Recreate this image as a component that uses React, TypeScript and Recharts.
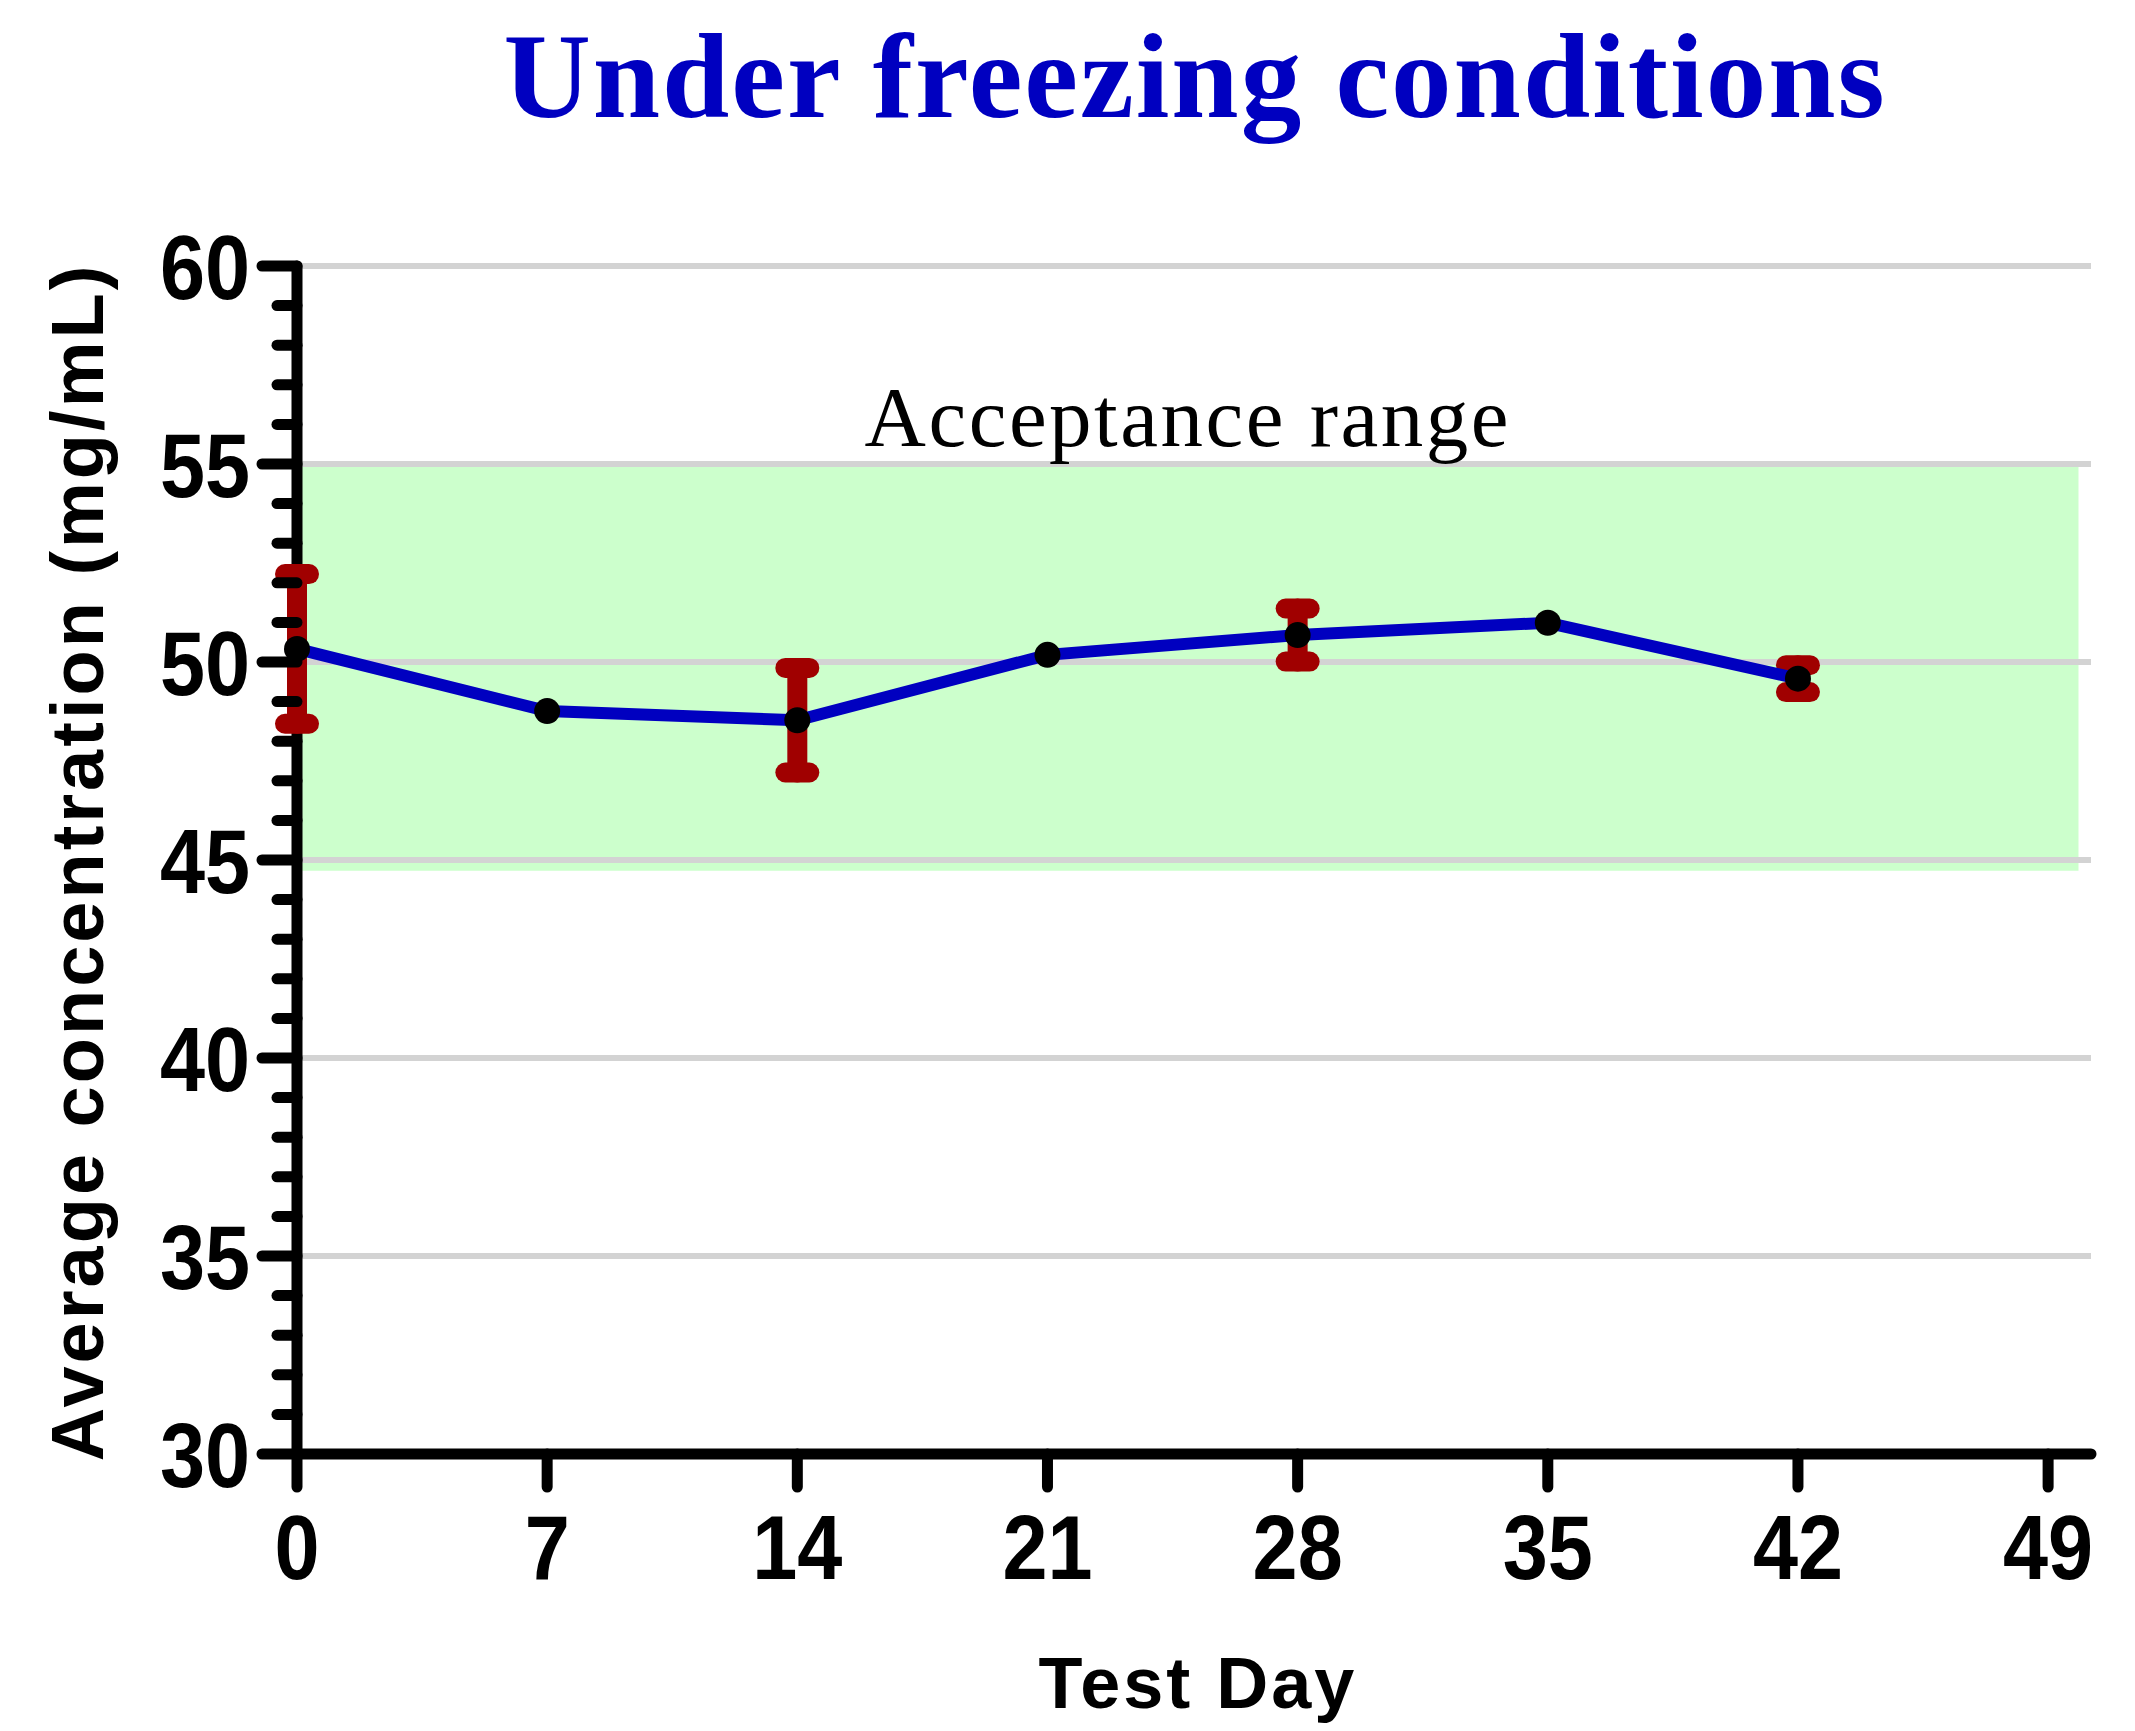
import { LineChart, Line, XAxis, YAxis, ErrorBar, ReferenceArea, ReferenceLine } from "recharts";

// values
const testDays = [0, 7, 14, 21, 28, 35, 42];
const meanConc = [50.33, 48.76, 48.53, 50.18, 50.68, 50.99, 49.58];
const sdConc: (number | null)[] = [1.89, null, 1.32, null, 0.67, null, 0.34];

const xTicks = [0, 7, 14, 21, 28, 35, 42, 49];
const yMajorTicks = [30, 35, 40, 45, 50, 55, 60];
const yAllTicks = [
  30, 31, 32, 33, 34, 35, 36, 37, 38, 39, 40, 41, 42, 43, 44, 45, 46, 47, 48, 49, 50,
  51, 52, 53, 54, 55, 56, 57, 58, 59, 60,
];
const gridValues = [35, 40, 45, 50, 55, 60];

const acceptanceLow = 44.73;
const acceptanceHigh = 54.95;
const acceptanceEnd = 49.85;
const xMax = 50.2;

const data = testDays.map((d, i) => ({ day: d, mean: meanConc[i], sd: sdConc[i] }));

const tickFont = "'Liberation Sans', Arial, sans-serif";

function YTick(props: any) {
  const { x, y, payload } = props;
  const major = yMajorTicks.includes(payload.value);
  const len = major ? 35 : 20;
  return (
    <g>
      <line x1={x - len} x2={x} y1={y} y2={y} stroke="#000" strokeWidth={11} strokeLinecap="round" />
      {major && (
        <g transform={`translate(${x - 47},${y}) scale(0.89,1)`}>
          <text x={0} y={0} dy="0.36em" textAnchor="end" fontFamily={tickFont} fontWeight="bold" fontSize={91} fill="#000">
            {payload.value}
          </text>
        </g>
      )}
    </g>
  );
}

function XTick(props: any) {
  const { x, y, payload } = props;
  return (
    <g transform={`translate(${x},${y + 92}) scale(0.89,1)`}>
      <text x={0} y={0} textAnchor="middle" fontFamily={tickFont} fontWeight="bold" fontSize={91} fill="#000">
        {payload.value}
      </text>
    </g>
  );
}

export default function App() {
  return (
    <div style={{ position: "absolute", left: 0, top: 0, width: 2135, height: 1731, background: "#fff" }}>
      <LineChart width={2135} height={1731} data={data} margin={{ top: 266, right: 44, bottom: 0, left: 0 }}>
        <ReferenceArea
          x1={0}
          x2={acceptanceEnd}
          y1={acceptanceLow}
          y2={acceptanceHigh}
          fill="#ccffcc"
          fillOpacity={1}
          stroke="none"
          label={{
            value: "Acceptance range",
            position: "top",
            offset: 20,
            fontFamily: "'Liberation Serif', 'Times New Roman', serif",
            fontSize: 85,
            letterSpacing: 2.5,
            fill: "#000",
          }}
        />
        {gridValues.map((v) => (
          <ReferenceLine key={v} y={v} stroke="#d3d3d3" strokeWidth={6} />
        ))}
        <XAxis
          dataKey="day"
          type="number"
          domain={[0, xMax]}
          ticks={xTicks}
          interval={0}
          height={277}
          tickSize={33}
          tickMargin={0}
          axisLine={{ stroke: "#000", strokeWidth: 11, strokeLinecap: "round" }}
          tickLine={{ stroke: "#000", strokeWidth: 11, strokeLinecap: "round" }}
          tick={<XTick />}
        />
        <YAxis
          type="number"
          domain={[30, 60]}
          ticks={yAllTicks}
          interval={0}
          width={297}
          tickSize={0}
          tickMargin={0}
          tickLine={false}
          axisLine={{ stroke: "#000", strokeWidth: 11, strokeLinecap: "round" }}
          tick={<YTick />}
        />
        <Line
          dataKey="mean"
          type="linear"
          stroke="#0000c0"
          strokeWidth={12}
          dot={{ r: 13, fill: "#000", stroke: "none" }}
          activeDot={false}
          isAnimationActive={false}
          zIndex={600}
        >
          <ErrorBar
            dataKey="sd"
            direction="y"
            width={12}
            stroke="#a00000"
            strokeWidth={20}
            strokeLinecap="round"
            isAnimationActive={false}
            zIndex={600}
          />
        </Line>
      </LineChart>
      <svg width={2135} height={1731} style={{ position: "absolute", left: 0, top: 0, pointerEvents: "none" }}>
        <text
          x={1195}
          y={117}
          textAnchor="middle"
          fontFamily="'Liberation Serif', 'Times New Roman', serif"
          fontWeight="bold"
          fontSize={121}
          letterSpacing={2}
          fill="#0000c0"
        >
          Under freezing conditions
        </text>
        <text
          x={103}
          y={862}
          transform="rotate(-90, 103, 862)"
          textAnchor="middle"
          fontFamily={tickFont}
          fontWeight="bold"
          fontSize={74}
          letterSpacing={3}
          fill="#000"
        >
          Average concentration (mg/mL)
        </text>
        <text
          x={1198}
          y={1708}
          textAnchor="middle"
          fontFamily={tickFont}
          fontWeight="bold"
          fontSize={72}
          letterSpacing={3}
          fill="#000"
        >
          Test Day
        </text>
      </svg>
    </div>
  );
}
